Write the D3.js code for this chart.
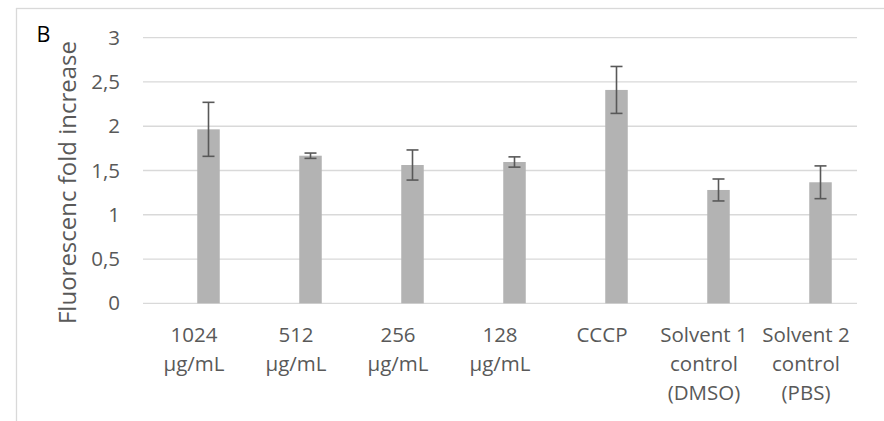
<!DOCTYPE html>
<html>
<head>
<meta charset="utf-8">
<script src="https://cdn.jsdelivr.net/npm/d3@7"></script>
<style>
  body { margin: 0; background: #fff; }
  svg text { font-family: "Open Sans", sans-serif; }
</style>
</head>
<body>
<div id="chart"></div>
<script>
// data
var categories = [
  ["1024", "µg/mL"],
  ["512", "µg/mL"],
  ["256", "µg/mL"],
  ["128", "µg/mL"],
  ["CCCP"],
  ["Solvent 1", "control", "(DMSO)"],
  ["Solvent 2", "control", "(PBS)"]
];
var values = [1.965, 1.667, 1.562, 1.596, 2.41, 1.28, 1.367];
var errors = [0.305, 0.03, 0.17, 0.058, 0.265, 0.124, 0.185];
var yTicks = [0, 0.5, 1, 1.5, 2, 2.5, 3];

function drawChart() {
    var width = 884,
        height = 421;
    var plot = {left: 143, right: 857, top: 37.7, bottom: 303.3};

    var svg = d3.select("#chart").append("svg")
        .attr("width", width)
        .attr("height", height);

    // chart area border (only left and top visible)
    svg.append("rect")
        .attr("x", 16.5)
        .attr("y", 8.5)
        .attr("width", width + 20)
        .attr("height", height + 20)
        .attr("fill", "none")
        .style("stroke", "#d9d9d9")
        .style("stroke-width", 1.3);

    var keys = categories.map(function(c, i) { return i; });

    var x = d3.scaleBand()
        .domain(keys)
        .range([plot.left, plot.right]);

    var y = d3.scaleLinear()
        .domain([0, 3])
        .range([plot.bottom, plot.top]);

    var barW = 22.5,
        barShift = 14.5;   // bars sit right of the category centre
    var fmt = function(d) { return String(d).replace(".", ","); };

    // gridlines
    svg.append("g")
        .selectAll("line")
        .data(yTicks)
        .enter().append("line")
        .attr("x1", plot.left)
        .attr("x2", plot.right)
        .attr("y1", function(d) { return y(d); })
        .attr("y2", function(d) { return y(d); })
        .style("stroke", "#d9d9d9")
        .style("stroke-width", 1.3);

    // y axis labels
    var yAxis = d3.axisLeft(y)
        .tickValues(yTicks)
        .tickFormat(fmt)
        .tickSize(0)
        .tickPadding(0);
    var gy = svg.append("g")
        .attr("transform", "translate(120,0)")
        .call(yAxis);
    gy.select(".domain").remove();
    gy.selectAll("text")
        .style("font-family", "'Open Sans', sans-serif")
        .style("font-size", "20.5px")
        .attr("fill", "#595959");

    // bars
    svg.append("g")
        .selectAll("rect")
        .data(values)
        .enter().append("rect")
        .attr("x", function(d, i) { return x(i) + x.bandwidth() / 2 + barShift - barW / 2; })
        .attr("y", function(d) { return y(d); })
        .attr("width", barW)
        .attr("height", function(d) { return y(0) - y(d); })
        .attr("fill", "#b3b3b3");

    // error bars
    var eb = svg.append("g")
        .selectAll("g")
        .data(values)
        .enter().append("g")
        .style("stroke", "#595959")
        .style("stroke-width", 1.6);
    var cx = function(d, i) { return x(i) + x.bandwidth() / 2 + barShift; };
    eb.append("line")
        .attr("x1", cx).attr("x2", cx)
        .attr("y1", function(d, i) { return y(d + errors[i]); })
        .attr("y2", function(d, i) { return y(d - errors[i]); });
    [1, -1].forEach(function(s) {
        eb.append("line")
            .attr("x1", function(d, i) { return cx(d, i) - 6; })
            .attr("x2", function(d, i) { return cx(d, i) + 6; })
            .attr("y1", function(d, i) { return y(d + s * errors[i]); })
            .attr("y2", function(d, i) { return y(d + s * errors[i]); });
    });

    // category labels
    var labels = svg.append("g")
        .selectAll("text")
        .data(categories)
        .enter().append("text")
        .attr("text-anchor", "middle")
        .attr("fill", "#595959")
        .style("font-size", "20.5px");
    labels.selectAll("tspan")
        .data(function(d, i) { return d.map(function(t) { return {t: t, i: i}; }); })
        .enter().append("tspan")
        .attr("x", function(d) { return x(d.i) + x.bandwidth() / 2; })
        .attr("y", function(d, j) { return 342 + j * 29; })
        .text(function(d) { return d.t; });

    // axis title
    svg.append("text")
        .attr("transform", "translate(75.5,182.5) rotate(-90)")
        .attr("text-anchor", "middle")
        .attr("fill", "#595959")
        .style("font-size", "24px")
        .text("Fluorescenc fold increase");

    // panel letter
    svg.append("text")
        .attr("x", 36.5)
        .attr("y", 42)
        .attr("fill", "#000")
        .style("font-size", "21.5px")
        .text("B");
}
drawChart();
</script>
</body>
</html>
